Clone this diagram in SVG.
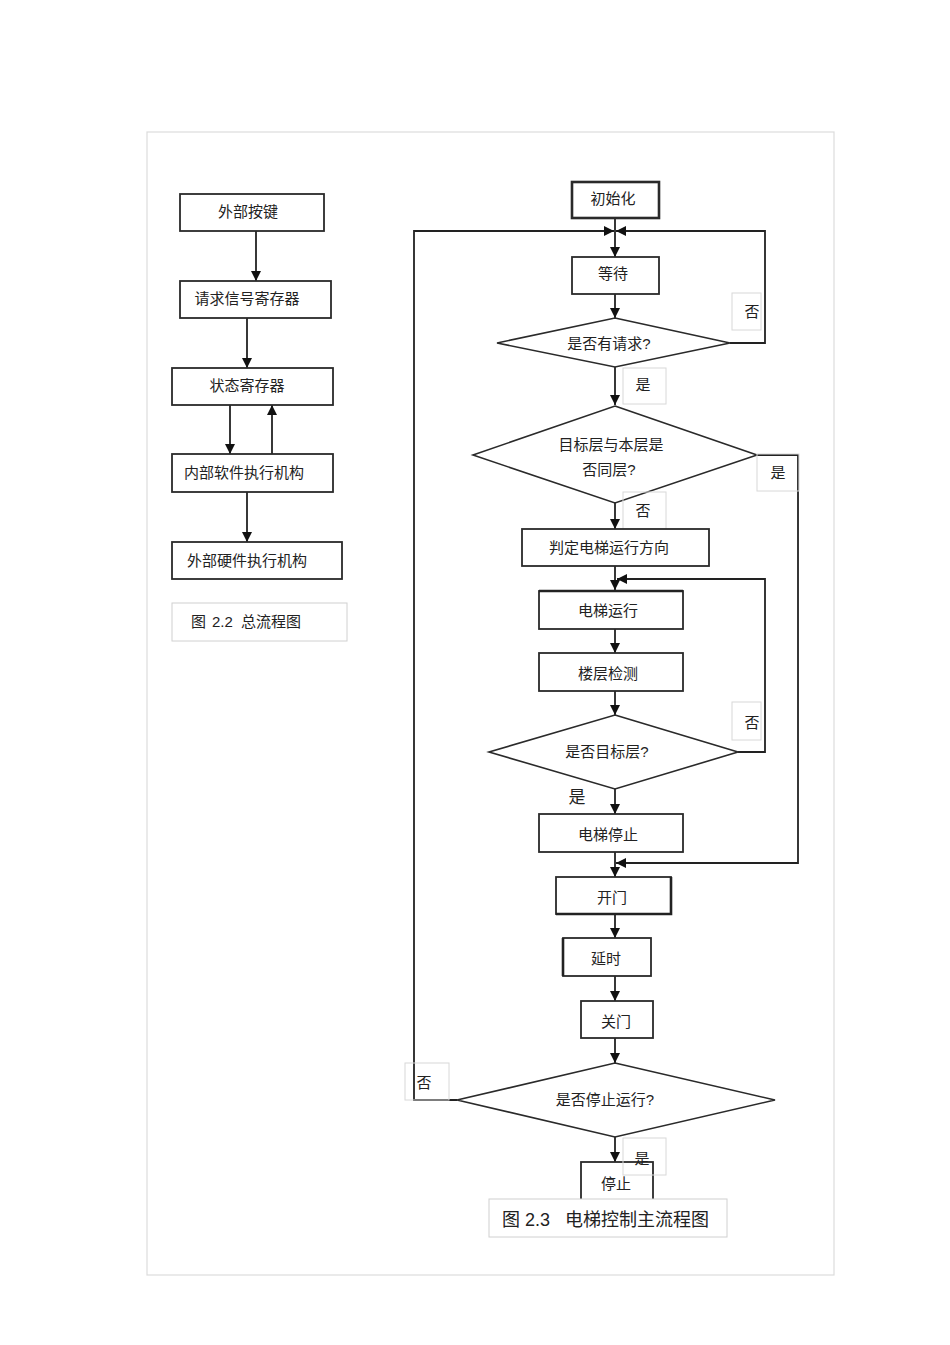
<svg xmlns="http://www.w3.org/2000/svg" width="950" height="1345" viewBox="0 0 950 1345">
<defs>
<marker id="arr" markerUnits="userSpaceOnUse" markerWidth="11" markerHeight="10" refX="10" refY="5" orient="auto">
<path d="M0,0 L10,5 L0,10 z" fill="#111"/>
</marker>
<style>
.box{fill:#fff;stroke:#2a2a2a;stroke-width:1.8}
.thick{stroke-width:2.6}
.dia{fill:#fff;stroke:#2a2a2a;stroke-width:1.6}
.lbl{fill:none;stroke:#d8d8d8;stroke-width:1}
.cap{fill:#fff;stroke:#d0d0d0;stroke-width:1}
.t{font-family:"Liberation Sans","Noto Sans CJK SC",sans-serif;font-size:15px;fill:#222;text-anchor:middle;dominant-baseline:central}
.s{text-anchor:start}
.c{stroke:#222;stroke-width:1.8;fill:none}
.frame{fill:none;stroke:#dcdcdc;stroke-width:1.2}
</style>
</defs>
<rect width="950" height="1345" fill="#fff"/>
<rect class="frame" x="147" y="132" width="687" height="1143"/>

<g id="connectors">
<path class="c" d="M256,231 V281" marker-end="url(#arr)"/>
<path class="c" d="M247,318 V368" marker-end="url(#arr)"/>
<path class="c" d="M230,405 V454" marker-end="url(#arr)"/>
<path class="c" d="M272,454 V405" marker-end="url(#arr)"/>
<path class="c" d="M247,492 V542" marker-end="url(#arr)"/>

<path class="c" d="M615,218 V257" marker-end="url(#arr)"/>
<path class="c" d="M457,1100 H414 V231 H614" marker-end="url(#arr)"/>
<path class="c" d="M730,343 H765 V231 H616" marker-end="url(#arr)"/>
<path class="c" d="M615,294 V318" marker-end="url(#arr)"/>
<path class="c" d="M615,367 V405" marker-end="url(#arr)"/>
<path class="c" d="M757,455 H798 V863 H616" marker-end="url(#arr)"/>
<path class="c" d="M615,503 V529" marker-end="url(#arr)"/>
<path class="c" d="M615,566 V590" marker-end="url(#arr)"/>
<path class="c" d="M738,752 H765 V579 H617" marker-end="url(#arr)"/>
<path class="c" d="M615,629 V653" marker-end="url(#arr)"/>
<path class="c" d="M615,691 V715" marker-end="url(#arr)"/>
<path class="c" d="M615,789 V814" marker-end="url(#arr)"/>
<path class="c" d="M615,852 V877" marker-end="url(#arr)"/>
<path class="c" d="M615,914 V938" marker-end="url(#arr)"/>
<path class="c" d="M615,976 V1001" marker-end="url(#arr)"/>
<path class="c" d="M615,1038 V1063" marker-end="url(#arr)"/>
<path class="c" d="M615,1137 V1162" marker-end="url(#arr)"/>
</g>

<g id="n-waibuanjian"><rect class="box" x="180" y="194" width="144" height="37"/><text class="t" x="248" y="211">外部按键</text></g>
<g id="n-qingqiu"><rect class="box" x="180" y="281" width="151" height="37"/><text class="t" x="247" y="298">请求信号寄存器</text></g>
<g id="n-zhuangtai"><rect class="box" x="172" y="368" width="161" height="37"/><text class="t" x="247" y="385">状态寄存器</text></g>
<g id="n-neibu"><rect class="box" x="172" y="454" width="161" height="38"/><text class="t" x="244" y="472">内部软件执行机构</text></g>
<g id="n-waibuyingjian"><rect class="box" x="172" y="542" width="170" height="37"/><text class="t" x="247" y="560">外部硬件执行机构</text></g>
<g id="cap-22"><rect class="cap" x="172" y="603" width="175" height="38"/><text class="t s" y="621"><tspan x="191">图</tspan><tspan x="212">2.2</tspan><tspan x="241">总流程图</tspan></text></g>

<g id="n-init"><rect class="box thick" x="572" y="182" width="87" height="36"/><text class="t" x="613" y="198">初始化</text></g>
<g id="n-wait"><rect class="box" x="572" y="257" width="87" height="37"/><text class="t" x="613" y="273">等待</text></g>
<g id="d-request"><polygon class="dia" points="615,318 730,343 615,367 497,343"/><text class="t" x="609" y="343">是否有请求?</text></g>
<g id="l-no1"><rect class="lbl" x="732" y="293" width="29" height="37"/><text class="t" x="752" y="311">否</text></g>
<g id="l-yes1"><rect class="lbl" x="623" y="368" width="43" height="36"/><text class="t" x="643" y="384">是</text></g>
<g id="d-same"><polygon class="dia" points="615,406 757,455 615,503 473,455"/><text class="t" x="611" y="444">目标层与本层是</text><text class="t" x="609" y="469">否同层?</text></g>
<g id="l-yes2"><rect class="lbl" x="757" y="454" width="42" height="37"/><text class="t" x="778" y="472">是</text></g>
<g id="l-no2"><rect class="lbl" x="623" y="492" width="43" height="37"/><text class="t" x="643" y="510">否</text></g>
<g id="n-dir"><rect class="box" x="522" y="529" width="187" height="37"/><text class="t" x="609" y="547">判定电梯运行方向</text></g>
<g id="n-run"><rect class="box" x="539" y="591" width="144" height="38"/><line x1="539" y1="591" x2="683" y2="591" stroke="#222" stroke-width="2.6"/><text class="t" x="608" y="610">电梯运行</text></g>
<g id="n-detect"><rect class="box" x="539" y="653" width="144" height="38"/><text class="t" x="608" y="673">楼层检测</text></g>
<g id="d-target"><polygon class="dia" points="615,715 738,752 615,789 489,752"/><text class="t" x="607" y="751">是否目标层?</text></g>
<g id="l-no3"><rect class="lbl" x="732" y="702" width="29" height="38"/><text class="t" x="752" y="722">否</text></g>
<g id="l-yes3"><text class="t" x="577" y="797" style="font-size:17px">是</text></g>
<g id="n-stop1"><rect class="box" x="539" y="814" width="144" height="38"/><text class="t" x="608" y="834">电梯停止</text></g>
<g id="n-open"><rect class="box" x="556" y="877" width="115" height="37"/><path d="M671,877 V914 H556" fill="none" stroke="#222" stroke-width="2.6"/><text class="t" x="612" y="897">开门</text></g>
<g id="n-delay"><rect class="box" x="563" y="938" width="88" height="38"/><line x1="563" y1="938" x2="563" y2="976" stroke="#222" stroke-width="2.6"/><text class="t" x="606" y="958">延时</text></g>
<g id="n-close"><rect class="box" x="581" y="1001" width="72" height="37"/><text class="t" x="616" y="1021">关门</text></g>
<g id="d-halt"><polygon class="dia" points="615,1063 775,1100 615,1137 457,1100"/><text class="t" x="605" y="1099">是否停止运行?</text></g>
<g id="l-no4"><rect class="lbl" x="405" y="1063" width="44" height="37"/><text class="t" x="424" y="1082">否</text></g>
<g id="n-stop"><rect class="box" x="581" y="1162" width="72" height="60"/><text class="t" x="616" y="1183">停止</text></g>
<g id="l-yes4"><rect class="lbl" x="623" y="1138" width="43" height="37"/><text class="t" x="642" y="1158">是</text></g>
<g id="cap-23"><rect class="cap" x="489" y="1199" width="238" height="38"/><text class="t s" y="1220" style="font-size:18px"><tspan x="502">图</tspan><tspan x="525">2.3</tspan><tspan x="565">电梯控制主流程图</tspan></text></g>
</svg>
